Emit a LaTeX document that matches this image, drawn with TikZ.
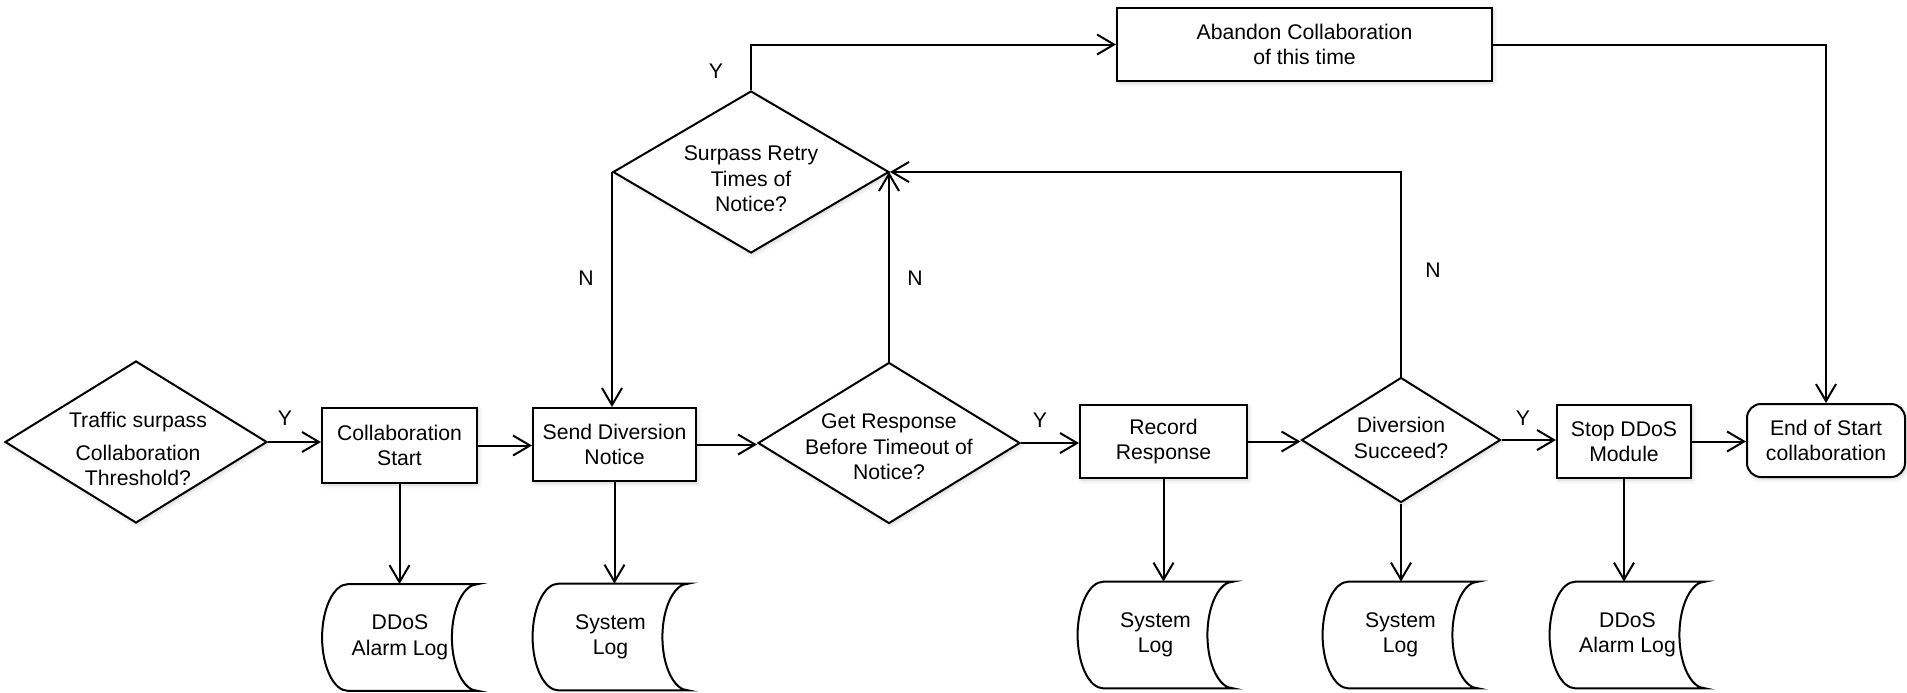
\documentclass[tikz,border=0pt]{standalone}
\usepackage{fontspec}
\setmainfont{Liberation Sans}
\usetikzlibrary{shapes.geometric,arrows.meta,shadows.blur}
\newcommand\stk[1]{\begin{tabular}{@{}c@{}}#1\end{tabular}}
% outline of a stored-data symbol drawn around a named node
\newcommand\storeoutline[1]{%
  \draw[line width=1pt] ([xshift=13pt]#1.north west) -- (#1.north east)
    .. controls +(-7.2pt,0) and +(0,14.6pt) .. ([xshift=-13pt]#1.east)
    .. controls +(0,-14.6pt) and +(-7.2pt,0) .. (#1.south east)
    -- ([xshift=13pt]#1.south west)
    .. controls +(-7.2pt,0) and +(0,-14.6pt) .. (#1.west)
    .. controls +(0,14.6pt) and +(-7.2pt,0) .. ([xshift=13pt]#1.north west)
    -- cycle;}
\begin{document}
\begin{tikzpicture}[x=0.5pt,y=-0.5pt,
  every node/.style={font=\fontsize{10.6pt}{12.7pt}\selectfont},
  shade/.style={blur shadow={shadow blur steps=6,shadow xshift=0.8pt,shadow yshift=-1pt,shadow opacity=18}},
  box/.style={draw,line width=1pt,fill=white,rectangle,inner sep=0pt,align=center,shade},
  dia/.style={draw,line width=1pt,fill=white,diamond,inner sep=0pt,shade},
  txt/.style={align=center,inner sep=0pt},
  store/.style={inner sep=0pt,minimum width=77.5pt,minimum height=53pt},
  lab/.style={inner sep=0pt},
  arr/.style={line width=1pt,-{Straight Barb[length=8.5pt,width=10pt]}}]
\useasboundingbox (0,0) rectangle (1907,692);

% decisions
\node[dia,minimum width=131pt,minimum height=81pt] (d1) at (136,442) {};
\node[txt] (d1t) at (138,449) {Traffic surpass\\[4pt]Collaboration\\Threshold?};
\node[dia,minimum width=131pt,minimum height=80.5pt] (d2) at (889,443) {};
\node[txt] (d2t) at (889,447) {Get Response\\Before Timeout of\\Notice?};
\node[dia,minimum width=99.5pt,minimum height=62.5pt] (d3) at (1401,440) {};
\node[txt] (d3t) at (1401,438) {Diversion\\Succeed?};
\node[dia,minimum width=138pt,minimum height=81pt] (d4) at (751,172) {};
\node[txt] (d4t) at (751,179) {Surpass Retry\\Times of\\Notice?};

% process steps
\node[box,minimum width=77.5pt,minimum height=37.5pt] (b1) at (399.5,445.5) {Collaboration\\Start};
\node[box,minimum width=81.5pt,minimum height=36.5pt] (b2) at (614.5,444.5) {Send Diversion\\Notice};
\node[box,minimum width=83.5pt,minimum height=36.5pt] (b3) at (1163.5,441.5) {Record\\Response};
\node[box,minimum width=67pt,minimum height=36.5pt] (b4) at (1624,441.5) {Stop DDoS\\Module};
\node[box,rounded corners=7pt,minimum width=79pt,minimum height=36.5pt] (b5) at (1826,440.5) {End of Start\\collaboration};
\node[box,minimum width=187.5pt,minimum height=36.5pt] (b6) at (1304.5,44.5) {Abandon Collaboration\\of this time};

% logs
\node[store] (s1) at (400,637.5) {\stk{DDoS\\Alarm Log}\hspace{5.5pt}};
\node[store] (s2) at (610.5,637) {\stk{System\\Log}\hspace{8pt}};
\node[store] (s3) at (1155.5,635) {\stk{System\\Log}\hspace{5pt}};
\node[store] (s4) at (1400.5,635) {\stk{System\\Log}\hspace{5pt}};
\node[store] (s5) at (1627.5,635) {\stk{DDoS\\Alarm Log}\hspace{6pt}};
\storeoutline{s1}
\storeoutline{s2}
\storeoutline{s3}
\storeoutline{s4}
\storeoutline{s5}

% main flow
\draw[arr] (d1.east) -- (d1.east -| b1.west);
\draw[arr] (b1.east) -- (b1.east -| b2.west);
\draw[arr] (b2.east) -- (b2.east -| d2.west);
\draw[arr] (d2.east) -- (d2.east -| b3.west);
\draw[arr] (b3.east) -- (b3.east -| d3.west);
\draw[arr] (d3.east) -- (d3.east -| b4.west);
\draw[arr] (b4.east) -- (b4.east -| b5.west);

% logging
\draw[arr] (b1.south) -- (b1.south |- s1.north);
\draw[arr] (b2.south) -- (b2.south |- s2.north);
\draw[arr] (b3.south) -- (b3.south |- s3.north);
\draw[arr] (d3.south) -- (d3.south |- s4.north);
\draw[arr] (b4.south) -- (b4.south |- s5.north);

% retry loop
\draw[arr] (d2.north) -- (d2.north |- d4.east);
\draw[arr] (d3.north) |- (d4.east);
\draw[arr] (d4.west) -- (d4.west |- b2.north);
\draw[arr] (d4.north) |- (b6.west);
\draw[arr] (b6.east) -| (b5.north);

% branch labels
\node[lab] (y1) at (285,418) {Y};
\node[lab] (y2) at (1040,420) {Y};
\node[lab] (y3) at (1523,418) {Y};
\node[lab] (y4) at (716,71) {Y};
\node[lab] (n1) at (586,278) {N};
\node[lab] (n2) at (915,278) {N};
\node[lab] (n3) at (1433,270) {N};
\end{tikzpicture}
\end{document}
